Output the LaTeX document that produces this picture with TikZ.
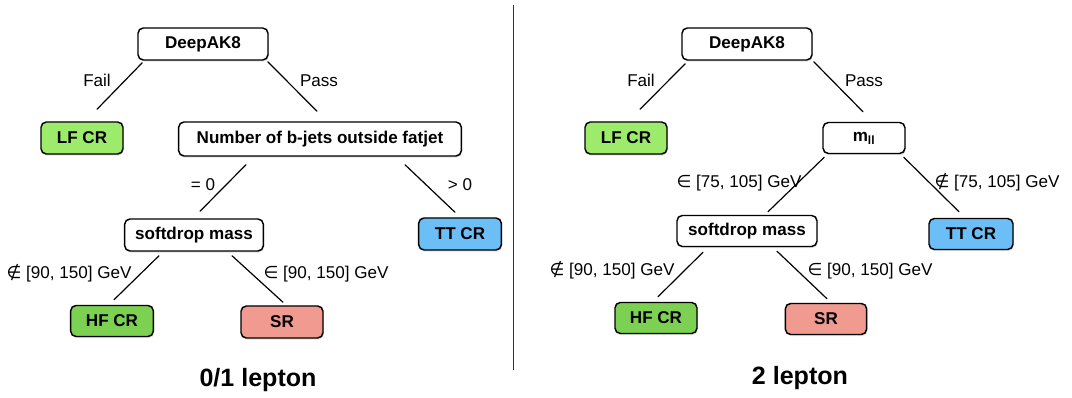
\documentclass[tikz,border=0pt]{standalone}
\usepackage{fontspec}
\setmainfont{Liberation Sans}
\newfontfamily\symfont{DejaVu Sans}
\usetikzlibrary{shadows}

\definecolor{lfgreen}{HTML}{9DEB6B}
\definecolor{hfgreen}{HTML}{7CD152}
\definecolor{srred}{HTML}{F09A90}
\definecolor{ttblue}{HTML}{6CBEF6}

\newcommand{\isin}{{\symfont ∈}}
\newcommand{\notisin}{{\symfont ∉}}

\begin{document}
\begin{tikzpicture}[x=0.75pt,y=-0.75pt,
    box/.style={draw, line width=1.1pt, rounded corners=4pt, fill=white, inner sep=0pt,
      minimum height=24pt, font=\fontsize{12.8}{15}\selectfont\bfseries,
      drop shadow={opacity=0.25, shadow xshift=0.6pt, shadow yshift=-1.2pt}},
    conn/.style={line width=0.9pt, line cap=round},
    lbl/.style={anchor=base, font=\fontsize{12.8}{15}\selectfont},
    title/.style={anchor=base, font=\fontsize{18.8}{22}\selectfont\bfseries}]

    \useasboundingbox (0,0) rectangle (1072,398);

    % 0/1 lepton
    \node[box, minimum width=97.5pt] (dl) at (203,44) {DeepAK8};
    \node[box, fill=lfgreen, minimum width=61.5pt] (lfl) at (82,138) {LF CR};
    \node[box, minimum width=212pt, minimum height=25.5pt] (nbl) at (320,139) {Number of b-jets outside fatjet};
    \node[box, minimum width=104pt] (sdl) at (194,235) {softdrop mass};
    \node[box, fill=ttblue, minimum width=62pt] (ttl) at (460,234) {TT CR};
    \node[box, fill=hfgreen, minimum width=62pt, minimum height=23.25pt] (hfl) at (112,321) {HF CR};
    \node[box, fill=srred, minimum width=61.5pt] (srl) at (282,322) {SR};

    \draw[conn] ([shift={(5,2)}]dl.south west) -- ([shift={(15,-12)}]lfl.north);
    \draw[conn] ([shift={(-1,1)}]dl.south east) -- ([shift={(-3,-10)}]nbl.north);
    \draw[conn] ([shift={(-74,8)}]nbl.south) -- ([shift={(6,-7)}]sdl.north);
    \draw[conn] ([shift={(85,8)}]nbl.south) -- ([shift={(-5,-5)}]ttl.north);
    \draw[conn] ([shift={(-35,4)}]sdl.south) -- ([shift={(2,-5)}]hfl.north);
    \draw[conn] ([shift={(38,4)}]sdl.south) -- ([shift={(1,-3)}]srl.north);

    \node[lbl] (faill) at (97,87) {Fail};
    \node[lbl] (passl) at (319,87) {Pass};
    \node[lbl] (zerol) at (203,191) {= 0};
    \node[lbl] (morel) at (460,191) {> 0};
    \node[lbl] (outl) at (69,279) {\notisin{} [90, 150] GeV};
    \node[lbl] (inl) at (326,279) {\isin{} [90, 150] GeV};

    \node[title] (onel) at (258,387) {0/1 lepton};

    \draw[line width=0.6pt, black!80] (513,5) -- (513,370);

    % 2 lepton
    \node[box, minimum width=97.5pt] (dr) at (747,44) {DeepAK8};
    \node[box, fill=lfgreen, minimum width=61.5pt] (lfr) at (626,138) {LF CR};
    \node[box, minimum width=61.5pt, minimum height=23.25pt] (mll) at (864,138) {m\textsubscript{ll}};
    \node[box, minimum width=105pt, minimum height=23.25pt] (sdr) at (747,231) {softdrop mass};
    \node[box, fill=ttblue, minimum width=63pt, minimum height=23.25pt] (ttr) at (971,234) {TT CR};
    \node[box, fill=hfgreen, minimum width=61.5pt, minimum height=23.25pt] (hfr) at (656,318) {HF CR};
    \node[box, fill=srred, minimum width=61pt, minimum height=23.25pt] (srr) at (826,319) {SR};

    \draw[conn] ([shift={(4,3)}]dr.south west) -- ([shift={(14,-12)}]lfr.north);
    \draw[conn] ([shift={(1,1)}]dr.south east) -- ([shift={(-1,-10)}]mll.north);
    \draw[conn] ([shift={(2,3)}]mll.south west) -- ([shift={(21,-3)}]sdr.north);
    \draw[conn] ([shift={(-2,3)}]mll.south east) -- ([shift={(-12,-6)}]ttr.north);
    \draw[conn] ([shift={(-44,5)}]sdr.south) -- ([shift={(2,-5)}]hfr.north);
    \draw[conn] ([shift={(30,4)}]sdr.south) -- ([shift={(1,-4)}]srr.north);

    \node[lbl] (failr) at (641,87) {Fail};
    \node[lbl] (passr) at (864,87) {Pass};
    \node[lbl] (inz) at (739,188) {\isin{} [75, 105] GeV};
    \node[lbl] (outz) at (997,188) {\notisin{} [75, 105] GeV};
    \node[lbl] (outr) at (612,276) {\notisin{} [90, 150] GeV};
    \node[lbl] (inr) at (870,276) {\isin{} [90, 150] GeV};

    \node[title] (twol) at (800,385) {2 lepton};

\end{tikzpicture}
\end{document}
